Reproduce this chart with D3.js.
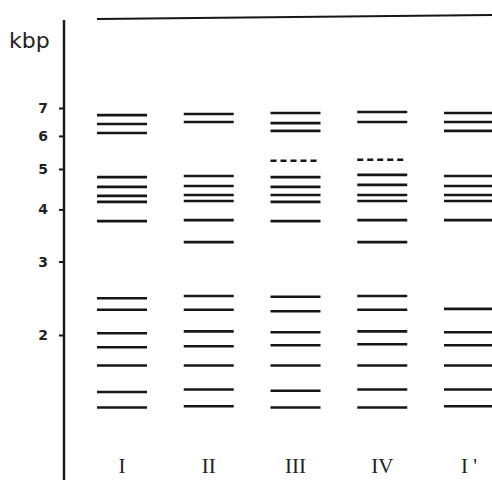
<!DOCTYPE html>
<html>
<head>
<meta charset="utf-8">
<script src="https://cdn.jsdelivr.net/npm/d3@7"></script>
<style>
  body { margin: 0; background: #fff; }
  svg { display: block; }
</style>
</head>
<body>
<svg width="492" height="480"></svg>
<script>
// lane names and band sizes (kbp)
var lanes = ["I", "II", "III", "IV", "I'"];
var laneLabels = ["I", "II", "III", "IV", "I '"];

var bandsI   = [6.73, 6.41, 6.10, 4.78, 4.53, 4.31, 4.17, 3.75, 2.45, 2.30, 2.02, 1.87, 1.69, 1.46, 1.34];
var bandsII  = [6.77, 6.48, 4.81, 4.55, 4.33, 4.19, 3.77, 3.34, 2.48, 2.30, 2.04, 1.88, 1.69, 1.48, 1.35];
var bandsIII = [6.81, 6.44, 6.17, 4.78, 4.53, 4.33, 4.17, 3.75, 2.47, 2.28, 2.03, 1.89, 1.69, 1.47, 1.34];
var bandsIV  = [6.85, 6.48, 4.84, 4.58, 4.33, 4.19, 3.77, 3.34, 2.48, 2.30, 2.04, 1.90, 1.69, 1.48, 1.34];
var bandsI2  = [6.81, 6.48, 6.17, 4.81, 4.55, 4.33, 4.19, 3.77, 2.31, 2.03, 1.89, 1.69, 1.48, 1.35];

// faint (dashed) bands
var faintIII = [5.23];
var faintIV  = [5.26];

var tickValues = [2, 3, 4, 5, 6, 7];

var svg = d3.select("svg"),
    width = +svg.attr("width"),
    height = +svg.attr("height");

var y = d3.scaleLog().domain([2, 7]).range([335, 108]);
var x = d3.scalePoint().domain(lanes).range([122, 469]);
var halfW = 25;

var ink = "#161616";

// axis line
svg.append("line")
    .attr("x1", 64).attr("x2", 64)
    .attr("y1", 20).attr("y2", height)
    .attr("stroke", ink).attr("stroke-width", 2.4);

var axis = svg.append("g")
    .attr("transform", "translate(64,0)")
    .call(d3.axisLeft(y).tickValues(tickValues).tickFormat(d3.format("d")).tickSize(5).tickPadding(11));
axis.select(".domain").remove();
axis.selectAll(".tick line").attr("stroke", ink).attr("stroke-width", 2);
axis.selectAll(".tick text")
    .attr("fill", "#222")
    .style("font-family", "DejaVu Sans, sans-serif")
    .style("font-size", "14px")
    .style("font-weight", "bold");

svg.append("text")
    .attr("x", 9).attr("y", 48)
    .attr("fill", "#222")
    .style("font-family", "DejaVu Sans, sans-serif")
    .style("font-size", "22px")
    .text("kbp");

// origin line at the top of the gel
svg.append("line")
    .attr("x1", 97).attr("x2", width)
    .attr("y1", 19).attr("y2", 15)
    .attr("stroke", ink).attr("stroke-width", 2.2);

var allBands = [bandsI, bandsII, bandsIII, bandsIV, bandsI2];
var rows = [];
lanes.forEach(function(l, i) {
  allBands[i].forEach(function(v) { rows.push({ lane: l, kbp: v, faint: false }); });
});
faintIII.forEach(function(v) { rows.push({ lane: "III", kbp: v, faint: true }); });
faintIV.forEach(function(v) { rows.push({ lane: "IV", kbp: v, faint: true }); });

svg.append("g")
  .selectAll("line")
  .data(rows)
  .enter().append("line")
    .attr("x1", function(d) { return x(d.lane) - halfW; })
    .attr("x2", function(d) { return x(d.lane) + halfW; })
    .attr("y1", function(d) { return y(d.kbp); })
    .attr("y2", function(d) { return y(d.kbp); })
    .attr("stroke", ink)
    .attr("stroke-width", 2.6)
    .attr("stroke-dasharray", function(d) { return d.faint ? "6,4" : null; });

svg.append("g")
  .selectAll("text")
  .data(lanes)
  .enter().append("text")
    .attr("x", function(d) { return x(d); })
    .attr("y", 473)
    .attr("text-anchor", "middle")
    .attr("fill", "#222")
    .style("font-family", "Liberation Serif, serif")
    .style("font-size", "21px")
    .text(function(d, i) { return laneLabels[i]; });
</script>
</body>
</html>
